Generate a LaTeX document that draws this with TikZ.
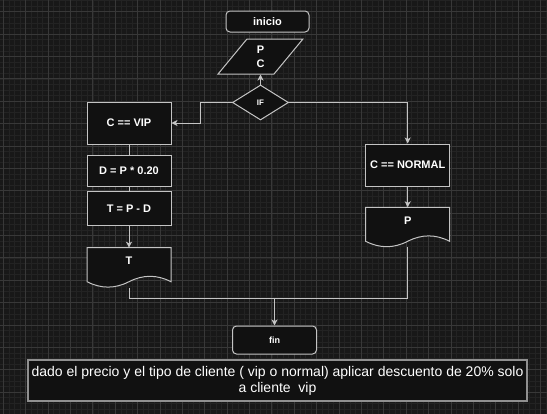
\documentclass[tikz,border=0pt]{standalone}
\usepackage{fontspec}
\setmainfont{Liberation Sans}
\usetikzlibrary{positioning, arrows.meta, shapes.geometric, calc}
\definecolor{bgc}{HTML}{181818}
\definecolor{gridminc}{HTML}{232323}
\definecolor{gridmajc}{HTML}{383838}
\definecolor{boxc}{HTML}{111111}
\definecolor{linec}{HTML}{C4C4C4}
\definecolor{notec}{HTML}{909090}

\begin{document}
\begin{tikzpicture}[x=0.75pt, y=-0.75pt,
        sqnode/.style={draw=linec, fill=boxc, line width=0.75pt, text=white, inner sep=0pt,
                       minimum width=63pt, font=\fontsize{8.25}{10.5}\selectfont\bfseries},
        rndnode/.style={sqnode, rounded corners=3pt},
        pcnode/.style={sqnode, trapezium, trapezium stretches=true, trapezium left angle=68.6,
                       trapezium right angle=111.4, minimum width=63.75pt, minimum height=26.25pt, align=center},
        ifnode/.style={sqnode, diamond, minimum width=42pt, minimum height=26.25pt,
                       font=\fontsize{6}{7}\selectfont\bfseries},
        docnode/.style={sqnode, draw=none, fill=none, anchor=north, minimum height=19.5pt},
        docline/.style={draw=linec, fill=boxc, line width=0.75pt},
        cline/.style={draw=linec, line width=0.75pt},
        carrow/.style={cline, ->, >={Stealth[length=4.5pt, width=4.5pt, inset=1.2pt]}}]
        % background and grid
        \fill[bgc] (0,0) rectangle (547,414);
        \useasboundingbox (0,0) rectangle (547,414);
        \begin{scope}[shift={(3.3,11.7)}]
            \draw[gridminc, line width=0.4pt, step=4.196pt] (-10,420) grid (560,-20);
            \draw[gridmajc, line width=0.6pt, step=16.785pt] (-10,420) grid (560,-20);
        \end{scope}
        % nodes
        \draw (267.5,21.5) node[rndnode, minimum width=62.25pt, minimum height=15.75pt] (ini) {inicio}
              (260.5,56.5) node[pcnode] (pc) {P\\C}
              (260.5,102.5) node[ifnode] (if) {IF}
              (129,123) node[sqnode, minimum height=31.5pt] (vip) {C == VIP}
              (129,170.7) node[sqnode, minimum height=23.25pt] (desc) {D = P * 0.20}
              (129,208.5) node[sqnode, minimum height=25.5pt] (tot) {T = P - D}
              (407.7,165) node[sqnode, minimum height=31.5pt] (nor) {C == NORMAL}
              (274.5,340) node[rndnode, minimum height=21pt, font=\fontsize{6.75}{8}\selectfont\bfseries] (fin) {fin};
        % documents
        \draw[docline] (129,247.7) ++(-42,0) -- ++(84,0) -- ++(0,34)
              .. controls +(-14,-7.2) and +(14,-7.2) .. ++(-42,0)
              .. controls +(-14,7.2) and +(14,7.2) .. ++(-42,0) -- cycle;
        \draw[docline] (407.7,207.3) ++(-42,0) -- ++(84,0) -- ++(0,34)
              .. controls +(-14,-7.2) and +(14,-7.2) .. ++(-42,0)
              .. controls +(-14,7.2) and +(14,7.2) .. ++(-42,0) -- cycle;
        \draw (129,247.7) node[docnode] (dT) {T}
              (407.7,207.3) node[docnode] (dP) {P};
        \coordinate (dT-out) at ($(dT.north)+(0,40)$);
        \coordinate (dP-out) at ($(dP.north)+(0,40)$);
        \coordinate (jn) at (274.5,298);
        % note
        \draw (277.5,380.7) node[draw=notec, fill=boxc, line width=1.5pt, text=white, inner sep=0pt,
              minimum width=374.25pt, minimum height=31.1pt, align=center,
              font=\fontsize{10.5}{11.8}\selectfont] (note)
              {dado el precio y el tipo de cliente ( vip o normal) aplicar descuento de 20\% solo\\a cliente~ vip};
        % connectors
        \draw[carrow] (if.north)--(pc.south);
        \draw[carrow] (if.west)--++(-31.5,0) |- (vip.east);
        \draw[carrow] (if.east) -| (nor.north);
        \draw[cline] (vip.south)--(desc.north);
        \draw[cline] (desc.south)--(tot.north);
        \draw[carrow] (tot.south)--(dT.north);
        \draw[carrow] (nor.south)--(dP.north);
        \draw[cline] (dT-out) |- (jn);
        \draw[cline] (dP-out) |- (jn);
        \draw[carrow] (jn)--(fin.north);
    \end{tikzpicture}
\end{document}
